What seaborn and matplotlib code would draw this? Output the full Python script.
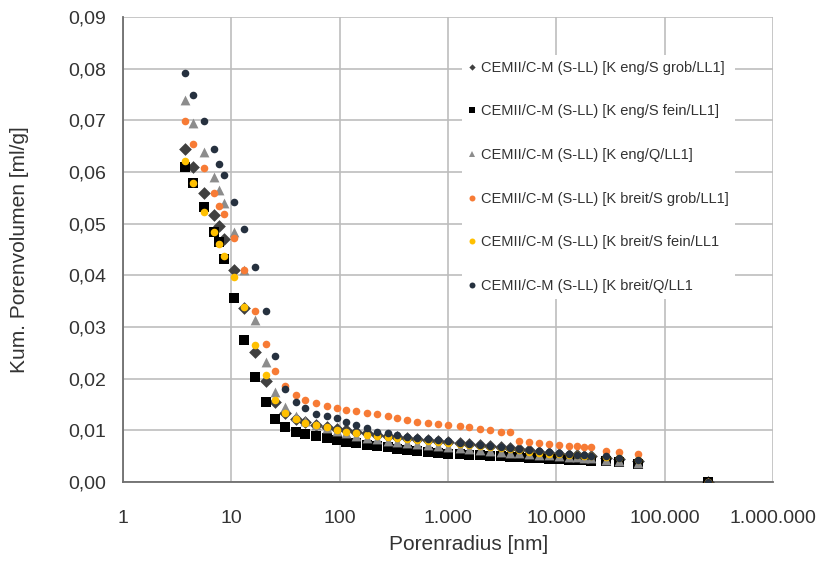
import numpy as np
import pandas as pd
import matplotlib
matplotlib.use("Agg")
import matplotlib.pyplot as plt
from matplotlib.lines import Line2D
from matplotlib.ticker import FixedLocator, FuncFormatter
import seaborn as sns

# Porenradius [nm] (gemeinsame Druckstufen aller Messungen)
radius_nm = [3.73, 4.42, 5.65, 6.91, 7.69, 8.55, 10.6, 13.1, 16.5, 20.9,
             25.3, 31.2, 39.4, 47.8, 60.3, 76.2, 94.2, 114, 141, 178,
             220, 279, 337, 417, 515, 651, 805, 990, 1285, 1556,
             1965, 2430, 3070, 3720, 4500, 5560, 6880, 8510, 10500, 13000,
             15400, 17900, 20800, 28600, 37700, 56400, 249000]

# Kumulatives Porenvolumen [ml/g]
eng_s_grob = [0.0645, 0.0610, 0.0560, 0.0517, 0.0496, 0.0471, 0.0411, 0.0337, 0.0252, 0.0196,
              0.0155, 0.0134, 0.0122, 0.0116, 0.0110, 0.0107, 0.0103, 0.0100, 0.0097, 0.0094,
              0.0091, 0.0089, 0.0087, 0.0085, 0.0083, 0.0081, 0.0079, 0.0077, 0.0075, 0.0073,
              0.0071, 0.0069, 0.0067, 0.0065, 0.0063, 0.0061, 0.0059, 0.0057, 0.0055, 0.0053,
              0.0052, 0.0051, 0.0050, 0.0047, 0.0044, 0.0040, 0.0]
eng_s_fein = [0.0610, 0.0578, 0.0533, 0.0484, 0.0465, 0.0432, 0.0357, 0.0275, 0.0203, 0.0155,
              0.0122, 0.0107, 0.0097, 0.0093, 0.0089, 0.0085, 0.0081, 0.0078, 0.0076, 0.0072,
              0.0070, 0.0068, 0.0064, 0.0062, 0.0060, 0.0058, 0.0056, 0.0055, 0.0054, 0.0053,
              0.0052, 0.0051, 0.0050, 0.0049, 0.0048, 0.0047, 0.0046, 0.0045, 0.0044, 0.0043,
              0.0042, 0.0042, 0.0041, 0.0040, 0.0038, 0.0035, 0.0]
eng_q = [0.0740, 0.0694, 0.0638, 0.0591, 0.0566, 0.0540, 0.0484, 0.0410, 0.0314, 0.0233,
         0.0174, 0.0145, 0.0128, 0.0118, 0.0110, 0.0104, 0.0098, 0.0094, 0.0090, 0.0086,
         0.0083, 0.0080, 0.0078, 0.0075, 0.0073, 0.0071, 0.0069, 0.0067, 0.0065, 0.0063,
         0.0062, 0.0060, 0.0059, 0.0057, 0.0056, 0.0055, 0.0053, 0.0052, 0.0050, 0.0049,
         0.0048, 0.0047, 0.0046, 0.0043, 0.0040, 0.0036, 0.0]
breit_s_grob = [0.0698, 0.0655, 0.0607, 0.0560, 0.0535, 0.0519, 0.0473, 0.0410, 0.0331, 0.0267,
                0.0215, 0.0186, 0.0169, 0.0159, 0.0153, 0.0147, 0.0143, 0.0140, 0.0137, 0.0134,
                0.0132, 0.0127, 0.0124, 0.0120, 0.0116, 0.0114, 0.0112, 0.0110, 0.0108, 0.0106,
                0.0103, 0.0101, 0.0097, 0.0097, 0.0080, 0.0078, 0.0076, 0.0074, 0.0072, 0.0070,
                0.0070, 0.0068, 0.0067, 0.0060, 0.0058, 0.0054, 0.0]
breit_s_fein = [0.0622, 0.0578, 0.0523, 0.0483, 0.0461, 0.0438, 0.0397, 0.0339, 0.0266, 0.0207,
                0.0159, 0.0134, 0.0122, 0.0114, 0.0110, 0.0107, 0.0101, 0.0097, 0.0095, 0.0091,
                0.0089, 0.0087, 0.0085, 0.0083, 0.0081, 0.0079, 0.0077, 0.0075, 0.0073, 0.0071,
                0.0069, 0.0067, 0.0065, 0.0063, 0.0061, 0.0059, 0.0057, 0.0055, 0.0054, 0.0053,
                0.0052, 0.0051, 0.0050, 0.0048, 0.0046, 0.0043, 0.0]
breit_q = [0.0791, 0.0750, 0.0698, 0.0645, 0.0616, 0.0595, 0.0541, 0.0489, 0.0417, 0.0331,
           0.0243, 0.0180, 0.0155, 0.0143, 0.0132, 0.0128, 0.0123, 0.0116, 0.0111, 0.0105,
           0.0097, 0.0095, 0.0091, 0.0087, 0.0085, 0.0083, 0.0081, 0.0079, 0.0076, 0.0074,
           0.0072, 0.0070, 0.0068, 0.0066, 0.0064, 0.0062, 0.0060, 0.0058, 0.0056, 0.0054,
           0.0053, 0.0052, 0.0051, 0.0050, 0.0047, 0.0042, 0.0]

series_names = [
    "CEMII/C-M (S-LL) [K eng/S grob/LL1]",
    "CEMII/C-M (S-LL) [K eng/S fein/LL1]",
    "CEMII/C-M (S-LL) [K eng/Q/LL1]",
    "CEMII/C-M (S-LL) [K breit/S grob/LL1]",
    "CEMII/C-M (S-LL) [K breit/S fein/LL1",
    "CEMII/C-M (S-LL) [K breit/Q/LL1",
]
series_values = [eng_s_grob, eng_s_fein, eng_q, breit_s_grob, breit_s_fein, breit_q]

colors = ["#404040", "#000000", "#8c8c8c", "#f77b35", "#ffc000", "#26313f"]
markers = ["D", "s", "^", "o", "o", "o"]
sizes = [42, 52, 50, 30, 30, 30]
legend_sizes = [3.2, 4.5, 4.2, 4.3, 4.3, 4.3]

df = pd.concat(
    [pd.DataFrame({"Porenradius": radius_nm, "Volumen": vals, "Serie": name})
     for name, vals in zip(series_names, series_values)],
    ignore_index=True,
)

sns.set_theme(style="white")
plt.rcParams["font.family"] = ["Liberation Sans", "DejaVu Sans"]

fig = plt.figure(figsize=(8.29, 5.65), dpi=100)
ax = fig.add_axes([123 / 829, 1 - 482 / 565, 650 / 829, 465 / 565])

for name, col, mk, sz in zip(series_names, colors, markers, sizes):
    sns.scatterplot(data=df[df["Serie"] == name], x="Porenradius", y="Volumen",
                    color=col, marker=mk, s=sz, linewidth=0, ax=ax,
                    legend=False, zorder=3)

ax.set_xscale("log")
ax.set_xlim(1, 1e6)
ax.set_ylim(0, 0.09)

x_ticks = [1, 10, 100, 1000, 10000, 100000, 1000000]
x_labels = ["1", "10", "100", "1.000", "10.000", "100.000", "1.000.000"]
y_ticks = [i / 100 for i in range(10)]
ax.xaxis.set_major_locator(FixedLocator(x_ticks))
ax.set_xticklabels(x_labels)
ax.xaxis.set_minor_locator(FixedLocator([]))
ax.yaxis.set_major_locator(FixedLocator(y_ticks))
ax.yaxis.set_major_formatter(FuncFormatter(lambda v, p: f"{v:.2f}".replace(".", ",")))

ax.grid(True, which="major", color="#bdbdbd", linewidth=1.2)
ax.set_axisbelow(True)
for side in ["top", "right"]:
    ax.spines[side].set_visible(False)
for side in ["left", "bottom"]:
    ax.spines[side].set_color("#6e6e6e")
    ax.spines[side].set_linewidth(1.3)

ax.tick_params(axis="both", length=0, labelsize=14, colors="#333333")
ax.tick_params(axis="x", pad=20)
ax.tick_params(axis="y", pad=12)

ax.set_xlabel("Porenradius [nm]", fontsize=15, color="#333333")
ax.set_ylabel("Kum. Porenvolumen [ml/g]", fontsize=15, color="#333333")
ax.xaxis.set_label_coords((469 - 123) / 650, -0.115)
ax.yaxis.set_label_coords(-0.145, 0.5)

handles = [Line2D([0], [0], linestyle="none", marker=mk, color=col,
                  markersize=ms, markeredgewidth=0)
           for col, mk, ms in zip(colors, markers, legend_sizes)]
leg = ax.legend(handles, series_names, loc="upper left",
                bbox_to_anchor=((462 - 123) / 650, 1 - (55 - 17) / 465),
                frameon=True, fontsize=10.5, labelspacing=2.03,
                handlelength=0.6, handletextpad=0.3, borderpad=0.4,
                borderaxespad=0)
leg.get_frame().set_facecolor("white")
leg.get_frame().set_edgecolor("none")
leg.get_frame().set_alpha(1)
for t in leg.get_texts():
    t.set_color("#333333")

fig.savefig("out.png", dpi=100)
